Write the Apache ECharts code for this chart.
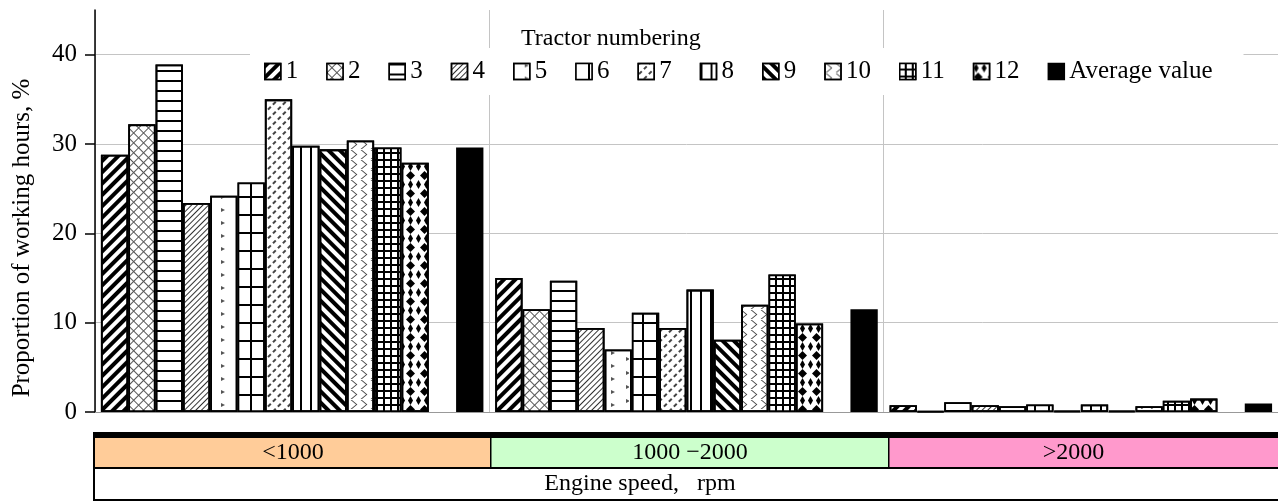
<!DOCTYPE html>
<html>
<head>
<meta charset="utf-8" />
<title>Engine speed shares</title>
<script src="https://cdn.jsdelivr.net/npm/echarts@6/dist/echarts.min.js"></script>
</head>
<body style="margin:0;background:#fff">
<div id="main" style="width:1278px;height:501px;"></div>
<script type="text/javascript">
// engine speed bands (rpm)
var speedBands = ['<1000', '1000 \u22122000', '>2000'];
// share of working hours, % (one value per band)
var tractor1 = [28.8, 15.0, 0.75];
var tractor2 = [32.2, 11.5, 0.1];
var tractor3 = [38.9, 14.7, 1.1];
var tractor4 = [23.4, 9.4, 0.75];
var tractor5 = [24.2, 7.0, 0.65];
var tractor6 = [25.7, 11.1, 0.85];
var tractor7 = [35.0, 9.4, 0.15];
var tractor8 = [29.8, 13.7, 0.85];
var tractor9 = [29.4, 8.1, 0.15];
var tractor10 = [30.4, 12.0, 0.65];
var tractor11 = [29.6, 15.4, 1.25];
var tractor12 = [27.9, 9.9, 1.5];
var averageValue = [29.6, 11.5, 0.95];
var yTicks = [0, 10, 20, 30, 40];

var tractors = [tractor1, tractor2, tractor3, tractor4, tractor5, tractor6,
                tractor7, tractor8, tractor9, tractor10, tractor11, tractor12];

var serif = 'Liberation Serif';
var Q = Math.PI / 4;

// hatch styles of the tractors, in order
var fills = [
  {c: '#fff', d: {color: '#000', dashArrayX: [1, 0], dashArrayY: [3.5, 3.5], rotation: -Q}},
  {c: '#555', d: {color: '#fff', dashArrayX: [5.5, 1], dashArrayY: [5.5, 1], rotation: Q}},
  {c: '#fff', d: {color: '#000', dashArrayX: [1, 0], dashArrayY: [1.5, 7.5], rotation: 0}},
  {c: '#fff', d: {color: '#333', dashArrayX: [1, 0], dashArrayY: [1, 3], rotation: -Q}},
  {c: '#fff', d: {symbol: 'triangle', color: '#555', dashArrayX: [[4, 9], [0, 6.5, 4, 2.5]], dashArrayY: [4, 11], rotation: Math.PI / 2}},
  {c: '#000', d: {color: '#fff', dashArrayX: [11.5, 1.5], dashArrayY: [15.5, 1.5], rotation: 0}},
  {c: '#fff', d: {color: '#444', dashArrayX: [[4, 3]], dashArrayY: [1.3, 4.5], rotation: -Q}},
  {c: '#fff', d: {color: '#000', dashArrayX: [1.5, 7.5], dashArrayY: [10, 0], rotation: 0}},
  {c: '#fff', d: {color: '#000', dashArrayX: [1, 0], dashArrayY: [4, 4], rotation: Q}},
  {c: '#fff', d: {symbol: 'path://M0,0L6,5L0,10L1.5,10L7.5,5L1.5,0Z', color: '#444', dashArrayX: [8, 2], dashArrayY: [9, 1], rotation: 0}},
  {c: '#000', d: {color: '#fff', dashArrayX: [5, 1.5], dashArrayY: [5, 1.5], rotation: 0}},
  {c: '#fff', d: {symbol: 'diamond', color: '#000', dashArrayX: [[9, 4.5], [0, 6.75, 9, -2.25]], dashArrayY: [9, 0], rotation: 0}}
];
// keep the staggered row of pattern 12 valid (no negative dash)
fills[11].d.dashArrayX = [[9, 4.5], [4.5, 2.25, 4.5, 2.25]];

var series = [];
var legendNames = [];
tractors.forEach(function (vals, i) {
  var name = String(i + 1);
  legendNames.push(name);
  series.push({
    type: 'bar', name: name, data: vals,
    barGap: '0%', barCategoryGap: '3%',
    itemStyle: {color: fills[i].c, decal: fills[i].d, borderColor: '#000', borderWidth: 1.8}
  });
});
// empty slot that separates the average bar
series.push({type: 'bar', name: 'gap', data: ['-', '-', '-']});
series.push({
  type: 'bar', name: 'Average value', data: averageValue,
  itemStyle: {color: '#000', borderColor: '#000', borderWidth: 1.8}
});
legendNames.push('Average value');

var chart = echarts.init(document.getElementById('main'));

var W = 1278;
var bandX = [95, 491, 889, W];
var table = [
  {type: 'rect', shape: {x: 93, y: 432, width: W - 93, height: 6}, style: {fill: '#000'}},
  {type: 'rect', shape: {x: 93, y: 432, width: 2, height: 69}, style: {fill: '#000'}},
  {type: 'rect', shape: {x: 95, y: 467, width: W - 95, height: 2}, style: {fill: '#000'}},
  {type: 'rect', shape: {x: 95, y: 499, width: W - 95, height: 2}, style: {fill: '#000'}},
  {type: 'text', x: 640, y: 484, style: {text: 'Engine speed,   rpm', font: '24px ' + serif, fill: '#000', align: 'center', verticalAlign: 'middle'}}
];
var bandColors = ['#FFCC99', '#CCFFCC', '#FF99CC'];
speedBands.forEach(function (b, i) {
  table.push({type: 'rect', shape: {x: bandX[i], y: 438, width: bandX[i + 1] - bandX[i], height: 29}, style: {fill: bandColors[i]}});
  if (i > 0) table.push({type: 'rect', shape: {x: bandX[i] - 1, y: 438, width: 1.5, height: 30}, style: {fill: '#000'}});
  table.push({type: 'text', x: (bandX[i] + bandX[i + 1]) / 2 - (i === 2 ? 10 : 0), y: 453, style: {text: b, font: '24px ' + serif, fill: '#000', align: 'center', verticalAlign: 'middle'}});
});

var option = {
  animation: false,
  backgroundColor: '#fff',
  title: {
    text: 'Tractor numbering', left: 521, top: 27, padding: 0,
    textStyle: {fontFamily: serif, fontSize: 24, fontWeight: 'normal', color: '#000'}
  },
  legend: {
    data: legendNames, left: 250, top: 48, padding: [11, 31, 11, 14],
    itemWidth: 16, itemHeight: 16, itemGap: 28, icon: 'rect',
    backgroundColor: '#fff', selectedMode: false,
    itemStyle: {borderColor: '#000', borderWidth: 1.5},
    textStyle: {fontFamily: serif, fontSize: 25, color: '#000'}
  },
  grid: {left: 95, right: 0, top: 10, bottom: 89},
  xAxis: {
    type: 'category', data: speedBands,
    axisLine: {lineStyle: {color: '#999', width: 1}},
    axisTick: {show: false},
    axisLabel: {show: false},
    splitLine: {show: true, interval: 0, lineStyle: {color: '#c4c4c4'}}
  },
  yAxis: {
    type: 'value', min: 0, max: 45, interval: 10,
    name: 'Proportion of working hours, %', nameLocation: 'middle', nameGap: 60, nameRotate: 90,
    nameTextStyle: {fontFamily: serif, fontSize: 25, color: '#000', padding: [0, 54, 0, 0]},
    axisLine: {show: true, lineStyle: {color: '#000', width: 1.5}},
    axisTick: {show: true, length: 10, customValues: yTicks, lineStyle: {color: '#000', width: 1.5}},
    axisLabel: {fontFamily: serif, fontSize: 25, color: '#000', margin: 18, customValues: yTicks},
    splitLine: {lineStyle: {color: ['#c4c4c4', '#c4c4c4', '#c4c4c4', '#c4c4c4', '#c4c4c4', 'rgba(0,0,0,0)']}}
  },
  graphic: table,
  series: series
};
chart.setOption(option);
</script>
</body>
</html>
